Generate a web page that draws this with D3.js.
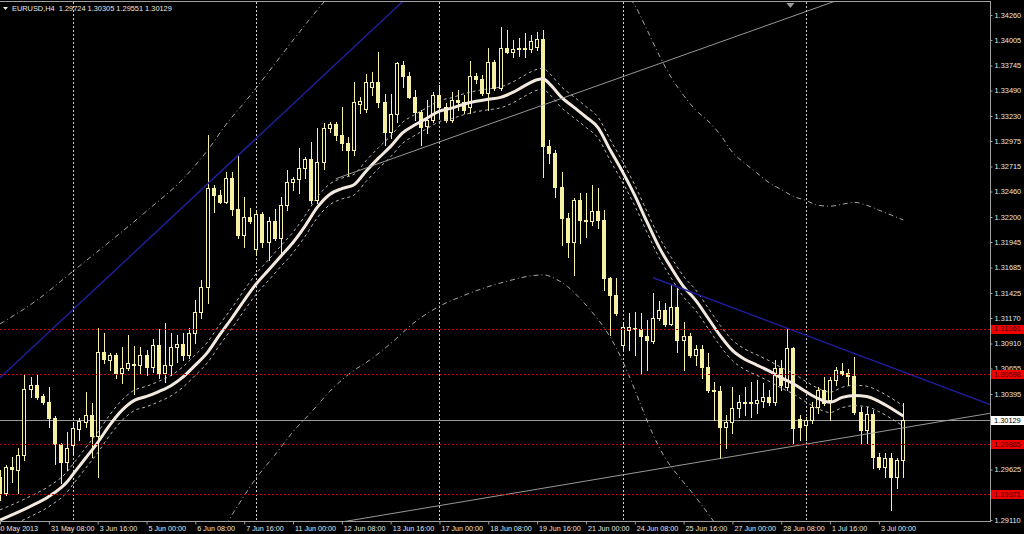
<!DOCTYPE html>
<html>
<head>
<meta charset="UTF-8">
<title>EURUSD,H4</title>
<script src="https://cdn.jsdelivr.net/npm/d3@7"></script>
<style>
  html, body { margin: 0; padding: 0; background: #000; }
  svg { display: block; }
  text { font-family: "Liberation Sans", Arial, sans-serif; }
</style>
</head>
<body>
<script>
// bar OHLC, one row per H4 bar from 30 May 2013 00:00 [open, high, low, close]
const ohlc = [
  [1.2955,1.2962,1.2931,1.2938],[1.2939,1.2967,1.2936,1.2965],[1.2965,1.2975,1.2950,1.2963],[1.2962,1.2984,1.2939,1.2977],
  [1.2977,1.3060,1.2972,1.3045],[1.3045,1.3057,1.3036,1.3049],[1.3049,1.3059,1.3034,1.3036],[1.3037,1.3040,1.3029,1.3031],
  [1.3031,1.3047,1.3006,1.3015],[1.3015,1.3017,1.2968,1.2988],[1.2988,1.2990,1.2949,1.2970],[1.2970,1.3001,1.2962,1.2984],
  [1.2987,1.3011,1.2977,1.3005],[1.3004,1.3015,1.2993,1.3012],[1.3011,1.3042,1.3006,1.3018],[1.3018,1.3030,1.2975,1.2997],
  [1.2997,1.3107,1.2955,1.3082],[1.3082,1.3102,1.3071,1.3075],[1.3074,1.3081,1.3064,1.3079],[1.3079,1.3081,1.3056,1.3061],
  [1.3061,1.3087,1.3051,1.3066],[1.3066,1.3100,1.3064,1.3071],[1.3070,1.3088,1.3040,1.3070],[1.3069,1.3087,1.3061,1.3079],
  [1.3079,1.3084,1.3059,1.3067],[1.3067,1.3096,1.3062,1.3089],[1.3089,1.3106,1.3056,1.3061],[1.3061,1.3112,1.3052,1.3069],
  [1.3069,1.3102,1.3059,1.3087],[1.3087,1.3100,1.3072,1.3090],[1.3090,1.3102,1.3074,1.3079],[1.3079,1.3107,1.3076,1.3102],
  [1.3102,1.3135,1.3091,1.3123],[1.3123,1.3156,1.3117,1.3149],[1.3149,1.3304,1.3132,1.3250],[1.3250,1.3253,1.3225,1.3242],
  [1.3242,1.3248,1.3234,1.3235],[1.3235,1.3266,1.3234,1.3260],[1.3260,1.3266,1.3222,1.3228],[1.3228,1.3282,1.3199,1.3202],
  [1.3202,1.3240,1.3189,1.3220],[1.3220,1.3229,1.3214,1.3216],[1.3187,1.3227,1.3181,1.3223],[1.3223,1.3225,1.3189,1.3194],
  [1.3194,1.3220,1.3176,1.3216],[1.3216,1.3228,1.3197,1.3199],[1.3199,1.3240,1.3181,1.3232],[1.3232,1.3268,1.3227,1.3256],
  [1.3256,1.3261,1.3248,1.3259],[1.3259,1.3290,1.3244,1.3270],[1.3270,1.3281,1.3260,1.3279],[1.3279,1.3296,1.3234,1.3237],
  [1.3237,1.3311,1.3234,1.3276],[1.3276,1.3316,1.3269,1.3311],[1.3311,1.3317,1.3307,1.3315],[1.3315,1.3317,1.3299,1.3304],
  [1.3304,1.3332,1.3288,1.3295],[1.3295,1.3302,1.3263,1.3288],[1.3288,1.3358,1.3283,1.3337],[1.3335,1.3342,1.3326,1.3338],
  [1.3330,1.3366,1.3327,1.3358],[1.3353,1.3368,1.3344,1.3358],[1.3358,1.3388,1.3332,1.3337],[1.3337,1.3345,1.3293,1.3307],
  [1.3307,1.3345,1.3301,1.3325],[1.3325,1.3378,1.3317,1.3377],[1.3375,1.3379,1.3353,1.3364],[1.3364,1.3368,1.3341,1.3342],
  [1.3342,1.3350,1.3319,1.3327],[1.3327,1.3329,1.3293,1.3312],[1.3313,1.3339,1.3306,1.3319],[1.3319,1.3347,1.3317,1.3344],
  [1.3344,1.3355,1.3322,1.3332],[1.3332,1.3336,1.3317,1.3319],[1.3319,1.3347,1.3317,1.3339],[1.3339,1.3350,1.3329,1.3337],
  [1.3337,1.3344,1.3326,1.3329],[1.3332,1.3379,1.3326,1.3364],[1.3364,1.3367,1.3357,1.3361],[1.3361,1.3365,1.3344,1.3346],
  [1.3346,1.3392,1.3329,1.3378],[1.3378,1.3380,1.3350,1.3352],[1.3352,1.3414,1.3350,1.3392],[1.3392,1.3411,1.3387,1.3388],
  [1.3388,1.3401,1.3383,1.3391],[1.3391,1.3403,1.3384,1.3392],[1.3392,1.3408,1.3383,1.3391],[1.3391,1.3406,1.3388,1.3399],
  [1.3393,1.3409,1.3390,1.3402],[1.3402,1.3411,1.3261,1.3292],[1.3292,1.3299,1.3275,1.3285],[1.3285,1.3288,1.3240,1.3251],
  [1.3251,1.3266,1.3191,1.3219],[1.3219,1.3224,1.3179,1.3194],[1.3194,1.3239,1.3161,1.3237],[1.3237,1.3244,1.3193,1.3217],
  [1.3217,1.3244,1.3200,1.3216],[1.3216,1.3253,1.3212,1.3226],[1.3226,1.3250,1.3209,1.3217],[1.3217,1.3227,1.3146,1.3158],
  [1.3158,1.3159,1.3100,1.3140],[1.3140,1.3158,1.3120,1.3122],[1.3089,1.3113,1.3084,1.3108],[1.3105,1.3122,1.3084,1.3108],
  [1.3107,1.3123,1.3079,1.3106],[1.3106,1.3122,1.3061,1.3099],[1.3099,1.3115,1.3064,1.3095],[1.3094,1.3142,1.3092,1.3117],
  [1.3117,1.3134,1.3115,1.3125],[1.3125,1.3132,1.3109,1.3111],[1.3111,1.3151,1.3110,1.3128],[1.3128,1.3148,1.3082,1.3095],
  [1.3095,1.3113,1.3064,1.3099],[1.3099,1.3102,1.3077,1.3079],[1.3079,1.3089,1.3069,1.3085],[1.3085,1.3089,1.3056,1.3067],
  [1.3067,1.3081,1.3042,1.3044],[1.3044,1.3052,1.3013,1.3043],[1.3043,1.3048,1.2974,1.3006],[1.3006,1.3018,1.2984,1.3011],
  [1.3011,1.3047,1.3000,1.3025],[1.3025,1.3038,1.3016,1.3031],[1.3031,1.3047,1.3018,1.3030],[1.3030,1.3052,1.3016,1.3031],
  [1.3030,1.3054,1.3020,1.3033],[1.3032,1.3051,1.3026,1.3036],[1.3036,1.3044,1.3028,1.3031],[1.3031,1.3074,1.3028,1.3066],
  [1.3066,1.3074,1.3044,1.3049],[1.3047,1.3107,1.3044,1.3086],[1.3086,1.3087,1.2990,1.3005],[1.3014,1.3018,1.2993,1.3006],
  [1.3008,1.3016,1.2993,1.3013],[1.3013,1.3031,1.3010,1.3026],[1.3026,1.3047,1.3020,1.3044],[1.3044,1.3057,1.3028,1.3030],
  [1.3033,1.3057,1.3013,1.3054],[1.3054,1.3067,1.3049,1.3064],[1.3063,1.3071,1.3059,1.3060],[1.3061,1.3065,1.3049,1.3058],
  [1.3058,1.3077,1.3019,1.3021],[1.3021,1.3026,1.2990,1.3003],[1.3003,1.3026,1.2990,1.3019],[1.3019,1.3023,1.2964,1.2975],
  [1.2975,1.2979,1.2963,1.2965],[1.2965,1.2979,1.2955,1.2974],[1.2974,1.2979,1.2921,1.2955],[1.2955,1.2974,1.2944,1.2972],
  [1.29724,1.30305,1.29551,1.30129]
];

// moving average [bar, price]
const maLine = [
  [0,1.2911],[5,1.2925],[8,1.2935],[11,1.2950],[12,1.2958],[14,1.2974],[16,1.2990],[18,1.3008],[20,1.3023],[22,1.3033],
  [24,1.3037],[26,1.3042],[28,1.3048],[30,1.3057],[32,1.3069],[34,1.3082],[36,1.3100],[38,1.3117],[40,1.3135],[42,1.3152],
  [44,1.3166],[46,1.3180],[48,1.3194],[50,1.3211],[52,1.3230],[54,1.3243],[56,1.3249],[58,1.3253],[60,1.3267],[62,1.3280],
  [64,1.3292],[66,1.3306],[68,1.3314],[70,1.3321],[72,1.3328],[74,1.3331],[76,1.3335],[78,1.3338],[80,1.3340],[82,1.3342],
  [84,1.3347],[86,1.3354],[88,1.3360],[89,1.3361],[90,1.3356],[92,1.3342],[94,1.3332],[96,1.3322],[98,1.3311],[100,1.3288],
  [102,1.3266],[104,1.3242],[106,1.3215],[108,1.3189],[110,1.3168],[112,1.3149],[114,1.3135],[116,1.3117],[118,1.3099],[120,1.3084],
  [122,1.3075],[124,1.3069],[126,1.3063],[128,1.3056],[130,1.3050],[132,1.3042],[134,1.3035],[136,1.3031],[138,1.3036],[140,1.3038],
  [142,1.3037],[144,1.3032],[146,1.3025],[148,1.3017]
];
const envelopeDev = 0.0008;

// wide bands, visible parts only [bar, price]
const bandUpperLeft = [
  [0,1.3111],[6,1.3135],[12,1.3165],[18,1.3195],[24,1.3226],[30,1.3259],[34,1.3288],[37,1.3314],[41,1.3344],[45,1.3376],
  [50,1.3416],[54,1.3446],[57,1.3467]
];
const bandUpperRight = [
  [102,1.3451],[104,1.3436],[106,1.3411],[108,1.3385],[110,1.3362],[112,1.3344],[114,1.3329],[116,1.3318],[118,1.3304],[120,1.3286],
  [122,1.3275],[124,1.3265],[126,1.3255],[128,1.3248],[130,1.3241],[132,1.3237],[134,1.3232],[136,1.3231],[138,1.3233],[140,1.3235],
  [142,1.3232],[144,1.3227],[146,1.3222],[148,1.3217]
];
const bandLower = [
  [37,1.2906],[39,1.2926],[42,1.2954],[45,1.2977],[48,1.3001],[51,1.3021],[54,1.3042],[57,1.3059],[61,1.3076],[64,1.3091],
  [68,1.3113],[72,1.3129],[76,1.3140],[80,1.3149],[84,1.3156],[87,1.3160],[89,1.3161],[91,1.3157],[93,1.3149],[95,1.3137],
  [97,1.3123],[99,1.3107],[101,1.3086],[103,1.3059],[105,1.3028],[107,1.2998],[109,1.2974],[111,1.2957],[113,1.2942],[115,1.2926],
  [117,1.2909],[119,1.2891]
];

// drawn objects
const blueTrends = [[[0,1.3056],[60,1.3405]], [[107,1.3158],[148,1.3062]]];
const grayTrends = [[[55,1.3259],[130,1.3425]], [[56,1.2909],[148,1.3005]]];
const hLevels = [1.31061, 1.30598, 1.29885, 1.29371];
const bid = 1.30129;

const weekStarts = [12, 42, 72, 102, 132];
const priceTicks = [1.34260,1.34005,1.33745,1.33490,1.33230,1.32975,1.32715,1.32460,1.32200,1.31945,1.31685,
  1.31425,1.31170,1.30910,1.30655,1.30395,1.30135,1.29880,1.29625,1.29365,1.29110];
const timeLabels = ["30 May 2013","31 May 08:00","3 Jun 16:00","5 Jun 00:00","6 Jun 08:00","7 Jun 16:00",
  "11 Jun 00:00","12 Jun 08:00","13 Jun 16:00","17 Jun 00:00","18 Jun 08:00","19 Jun 16:00","21 Jun 00:00",
  "24 Jun 08:00","25 Jun 16:00","27 Jun 00:00","28 Jun 08:00","1 Jul 16:00","3 Jul 00:00"];
const labelStep = 8;

const width = 1024, height = 534;
const plotRight = 990, plotTop = 2, plotBottom = 521;
const candleColor = '#f6f0a2';

const x = d3.scaleLinear().domain([0, 148]).range([0.06, 903.3]);
const y = d3.scaleLinear().domain([1.29110, 1.34260]).range([520, 15]);
const px = v => Math.round(v) + 0.5;

const svg = d3.select('body').append('svg')
  .attr('width', width).attr('height', height)
  .style('background', '#000');

svg.append('defs').append('clipPath').attr('id', 'plot')
  .append('rect').attr('x', 0).attr('y', plotTop).attr('width', plotRight).attr('height', plotBottom - plotTop);

const plot = svg.append('g').attr('clip-path', 'url(#plot)');

// weekly separators
plot.append('g').selectAll('line').data(weekStarts).join('line')
  .attr('x1', d => px(x(d))).attr('x2', d => px(x(d)))
  .attr('y1', plotTop).attr('y2', plotBottom)
  .attr('stroke', '#d0d0d0').attr('stroke-dasharray', '2,2');

// bid line
plot.append('line')
  .attr('x1', 0).attr('x2', plotRight)
  .attr('y1', px(y(bid))).attr('y2', px(y(bid)))
  .attr('stroke', '#9a9a9a');

// candles
const cg = plot.append('g').selectAll('g').data(ohlc).join('g');
cg.append('line')
  .attr('x1', (d, i) => Math.round(x(i)) + 0.5).attr('x2', (d, i) => Math.round(x(i)) + 0.5)
  .attr('y1', d => Math.round(y(d[1]))).attr('y2', d => Math.round(y(d[2])) + 1)
  .attr('stroke', candleColor);
cg.append('rect')
  .attr('x', (d, i) => Math.round(x(i)) - 1.5)
  .attr('width', 3)
  .attr('y', d => Math.round(y(Math.max(d[0], d[3]))) + 0.5)
  .attr('height', d => Math.max(1, Math.round(y(Math.min(d[0], d[3]))) - Math.round(y(Math.max(d[0], d[3])))))
  .attr('fill', d => d[3] >= d[0] ? '#000' : candleColor)
  .attr('stroke', candleColor);

// indicators
const line = d3.line().x(d => x(d[0])).y(d => y(d[1])).curve(d3.curveMonotoneX);

[bandUpperLeft, bandUpperRight, bandLower].forEach(band => {
  plot.append('path').datum(band).attr('d', line)
    .attr('fill', 'none').attr('stroke', '#b8b8b8').attr('stroke-width', 0.9)
    .attr('stroke-dasharray', '5,3,1,3');
});

[1 + envelopeDev, 1 - envelopeDev].forEach(k => {
  plot.append('path').datum(maLine.map(d => [d[0], d[1] * k])).attr('d', line)
    .attr('fill', 'none').attr('stroke', '#c8c8c8').attr('stroke-width', 0.9)
    .attr('stroke-dasharray', '3,3');
});

plot.append('path').datum(maLine).attr('d', line)
  .attr('fill', 'none').attr('stroke', '#f3e9df').attr('stroke-width', 3);

// trend lines (rays to the right)
const ray = (a, b) => {
  const end = 175;
  const k = (b[1] - a[1]) / (b[0] - a[0]);
  return [a, [end, a[1] + k * (end - a[0])]];
};
const straight = d3.line().x(p => x(p[0])).y(p => y(p[1]));
plot.append('g').selectAll('path').data(grayTrends).join('path')
  .attr('d', d => straight(ray(d[0], d[1])))
  .attr('fill', 'none').attr('stroke', '#a8a8a8').attr('stroke-width', 0.9);
plot.append('g').selectAll('path').data(blueTrends).join('path')
  .attr('d', d => straight(ray(d[0], d[1])))
  .attr('fill', 'none').attr('stroke', '#1e1e96').attr('stroke-width', 1.5);

// horizontal levels
plot.append('g').selectAll('line').data(hLevels).join('line')
  .attr('x1', 0).attr('x2', plotRight)
  .attr('y1', d => px(y(d))).attr('y2', d => px(y(d)))
  .attr('stroke', '#d00000').attr('stroke-dasharray', '2,2');

// chart shift marker
const shiftX = x(129.5);
svg.append('path')
  .attr('d', `M${shiftX - 4},${plotTop + 1}L${shiftX + 4},${plotTop + 1}L${shiftX},${plotTop + 6}Z`)
  .attr('fill', '#9a9a9a');

// frame
svg.append('line').attr('x1', 0).attr('x2', plotRight + 0.5).attr('y1', plotTop - 0.5).attr('y2', plotTop - 0.5).attr('stroke', '#a0a0a0');
svg.append('line').attr('x1', plotRight + 0.5).attr('x2', plotRight + 0.5).attr('y1', plotTop - 1).attr('y2', plotBottom + 1).attr('stroke', '#a0a0a0');
svg.append('line').attr('x1', 0).attr('x2', plotRight + 1).attr('y1', plotBottom + 0.5).attr('y2', plotBottom + 0.5).attr('stroke', '#a0a0a0');

// price axis
const yAxis = svg.append('g').attr('transform', `translate(${plotRight + 0.5},0)`)
  .call(d3.axisRight(y).tickValues(priceTicks).tickFormat(d3.format('.5f')).tickSizeInner(2).tickSizeOuter(0).tickPadding(2));
yAxis.select('.domain').remove();
yAxis.selectAll('line').attr('stroke', '#a0a0a0');
yAxis.selectAll('text').attr('fill', '#e6e6e6').style('font-size', '7.4px')
  .style('font-family', '"Liberation Sans", Arial, sans-serif');

// time axis
const labelBars = timeLabels.map((t, i) => i * labelStep);
const xAxis = svg.append('g').attr('transform', `translate(0,${plotBottom + 0.5})`)
  .call(d3.axisBottom(x).tickValues(labelBars).tickFormat((d, i) => timeLabels[i]).tickSizeInner(3).tickSizeOuter(0));
xAxis.select('.domain').remove();
xAxis.selectAll('line').attr('stroke', '#a0a0a0');
xAxis.selectAll('text')
  .attr('text-anchor', 'start').attr('x', (d, i) => i === 0 ? -4 : 1.5).attr('y', 4).attr('dy', '0.71em')
  .attr('fill', '#e6e6e6').style('font-size', '7.2px')
  .style('font-family', '"Liberation Sans", Arial, sans-serif');

// level labels
const tag = (p, bg, fg) => {
  const g = svg.append('g');
  g.append('rect').attr('x', plotRight + 1).attr('y', Math.round(y(p)) - 4).attr('width', width - plotRight - 1).attr('height', 9).attr('fill', bg);
  g.append('text').attr('x', plotRight + 4).attr('y', y(p)).attr('dy', '0.36em')
    .attr('fill', fg).style('font-size', '7.4px').text(d3.format('.5f')(p));
};
hLevels.forEach(p => tag(p, '#ee0000', '#3a0000'));
tag(bid, '#ffffff', '#000000');

// title
const last = ohlc[ohlc.length - 1];
svg.append('path').attr('d', 'M3,7L8,7L5.5,10Z').attr('fill', '#e6e6e6');
svg.append('text').attr('x', 12).attr('y', 11)
  .attr('fill', '#e6e6e6').style('font-size', '7.4px').style('white-space', 'pre')
  .text('EURUSD,H4  ' + last.map(d3.format('.5f')).join(' '));
</script>
</body>
</html>
